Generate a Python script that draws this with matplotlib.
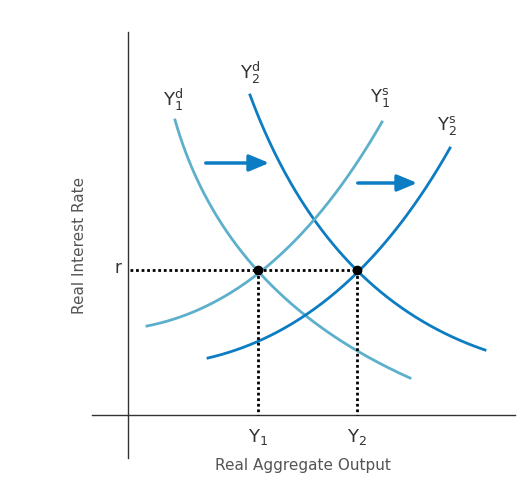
import numpy as np
import matplotlib
matplotlib.use("Agg")
import matplotlib.pyplot as plt

# Curve control points (start, control, end) in pixel space
curves = {
    "Y1d": [(175, 120), (225, 295), (410, 378)],
    "Y2d": [(250, 95), (324, 295), (485, 350)],
    "Y1s": [(147, 326), (280, 300), (382, 122)],
    "Y2s": [(208, 358), (350, 325), (450, 148)],
}
colors = {"Y1d": "#5db0cc", "Y1s": "#5db0cc", "Y2d": "#0c7dc2", "Y2s": "#0c7dc2"}
labels = {"Y1d": (r"$\mathregular{Y_1^d}$", 173, 100), "Y2d": (r"$\mathregular{Y_2^d}$", 250, 73),
          "Y1s": (r"$\mathregular{Y_1^s}$", 380, 97), "Y2s": (r"$\mathregular{Y_2^s}$", 447, 125)}
eq_x = [258, 357]
r_y = 270
eq_labels = [r"$\mathregular{Y_1}$", r"$\mathregular{Y_2}$"]

fig = plt.figure(figsize=(5.31, 4.94), dpi=100)
ax = fig.add_axes([0, 0, 1, 1])
ax.set_xlim(0, 531); ax.set_ylim(494, 0); ax.axis("off")

ax.plot([128, 128], [32, 458], color="#333", lw=1)
ax.plot([92, 515], [415, 415], color="#333", lw=1)

t = np.linspace(0, 1, 200)
for k, pts in curves.items():
    p0, p1, p2 = [np.array(p, float) for p in pts]
    c = ((1 - t) ** 2)[:, None] * p0 + (2 * (1 - t) * t)[:, None] * p1 + (t ** 2)[:, None] * p2
    ax.plot(c[:, 0], c[:, 1], color=colors[k], lw=2)
    s, x, y = labels[k]
    ax.text(x, y, s, fontsize=13, color="#333", ha="center", va="center")

for (x0, x1, y) in [(203, 272, 163), (355, 420, 183)]:
    ax.annotate("", xy=(x1, y), xytext=(x0, y),
                arrowprops=dict(arrowstyle="-|>,head_length=1.2,head_width=0.5", color="#0c7dc2", lw=2.5))

ax.plot([130, eq_x[1]], [r_y, r_y], color="black", lw=2, ls=(0, (1, 1)))
for x, l in zip(eq_x, eq_labels):
    ax.plot([x, x], [r_y, 415], color="black", lw=2, ls=(0, (1, 1)))
    ax.plot(x, r_y, "o", color="black", ms=6)
    ax.text(x, 437, l, fontsize=13, color="#333", ha="center", va="center")

ax.text(118, 268, "r", fontsize=12, color="#333", ha="center", va="center")
ax.text(303, 465, "Real Aggregate Output", fontsize=11, color="#555", ha="center", va="center")
ax.text(80, 245, "Real Interest Rate", fontsize=11, color="#555", ha="center", va="center", rotation=90)

fig.savefig("out.png", dpi=100)
